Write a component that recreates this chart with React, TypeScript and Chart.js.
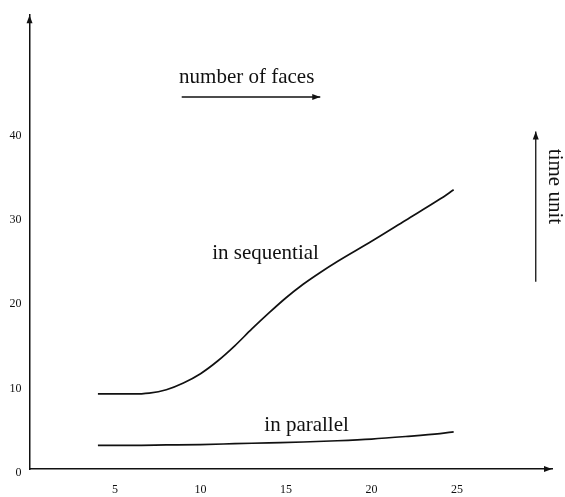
import React, { useEffect, useRef } from "react";
import { Chart, registerables } from "chart.js";

Chart.register(...registerables);

const faces = [4, 6, 7, 8, 9, 10, 11, 12, 13, 14, 15, 16, 17, 18, 20, 22, 24, 24.8];
const sequential = [8.9, 8.9, 9.0, 9.4, 10.2, 11.3, 12.8, 14.6, 16.6, 18.5, 20.3, 21.9, 23.3, 24.6, 27.0, 29.5, 32.0, 33.1];
const parallelX = [4, 6, 8, 10, 12, 14, 16, 18, 20, 22, 24, 24.8];
const parallel = [2.8, 2.8, 2.85, 2.9, 3.0, 3.1, 3.2, 3.35, 3.55, 3.85, 4.2, 4.4];
const xTicks = [5, 10, 15, 20, 25];
const yTicks = [0, 10, 20, 30, 40];

const SERIF = "'Liberation Serif', 'DejaVu Serif', serif";

function arrowHead(ctx: CanvasRenderingContext2D, x: number, y: number, dir: "right" | "up") {
  ctx.beginPath();
  if (dir === "right") {
    ctx.moveTo(x, y);
    ctx.lineTo(x - 8, y - 3);
    ctx.lineTo(x - 8, y + 3);
  } else {
    ctx.moveTo(x, y);
    ctx.lineTo(x - 3, y + 8);
    ctx.lineTo(x + 3, y + 8);
  }
  ctx.closePath();
  ctx.fill();
}

const annotations = {
  id: "annotations",
  afterDraw(chart: any) {
    const { ctx, scales, chartArea } = chart;
    const xs = scales.x;
    const ys = scales.y;
    const px = (v: number) => xs.getPixelForValue(v);
    const py = (v: number) => ys.getPixelForValue(v);
    ctx.save();
    ctx.fillStyle = "#111";
    ctx.strokeStyle = "#111";
    ctx.lineWidth = 1.3;
    // axis arrowheads
    arrowHead(ctx, chartArea.right, chartArea.bottom, "right");
    arrowHead(ctx, chartArea.left, chartArea.top, "up");

    ctx.font = `21px ${SERIF}`;
    ctx.textAlign = "center";
    ctx.textBaseline = "alphabetic";
    // number of faces
    ctx.fillText("number of faces", px(12.7), py(45.8));
    ctx.beginPath();
    ctx.moveTo(px(8.9), py(44.1));
    ctx.lineTo(px(17.0), py(44.1));
    ctx.stroke();
    arrowHead(ctx, px(17.0), py(44.1), "right");

    // time unit
    ctx.save();
    ctx.translate(px(30.72), py(33.5));
    ctx.rotate(Math.PI / 2);
    ctx.textBaseline = "middle";
    ctx.fillText("time unit", 0, 0);
    ctx.restore();
    ctx.beginPath();
    ctx.moveTo(px(29.6), py(22.2));
    ctx.lineTo(px(29.6), py(40.0));
    ctx.stroke();
    arrowHead(ctx, px(29.6), py(40.0), "up");

    // series labels
    ctx.fillText("in sequential", px(13.8), py(24.9));
    ctx.fillText("in parallel", px(16.2), py(4.5));
    ctx.restore();
  },
};

export default function App() {
  const ref = useRef<HTMLCanvasElement | null>(null);
  useEffect(() => {
    document.body.style.margin = "0";
    const canvas = ref.current;
    if (!canvas) return;
    const chart = new Chart(canvas, {
      type: "line",
      data: {
        datasets: [
          {
            label: "in sequential",
            data: faces.map((f, i) => ({ x: f, y: sequential[i] })),
            borderColor: "#111",
            borderWidth: 1.7,
            pointRadius: 0,
            cubicInterpolationMode: "monotone",
            fill: false,
          },
          {
            label: "in parallel",
            data: parallelX.map((f, i) => ({ x: f, y: parallel[i] })),
            borderColor: "#111",
            borderWidth: 1.7,
            pointRadius: 0,
            cubicInterpolationMode: "monotone",
            fill: false,
          },
        ],
      },
      options: {
        responsive: false,
        animation: false,
        layout: { padding: { top: 10, right: 13, left: 0, bottom: 0 } },
        plugins: { legend: { display: false }, tooltip: { enabled: false }, title: { display: false } },
        scales: {
          x: {
            type: "linear",
            min: 0,
            max: 30.55,
            afterFit: (s: any) => {
              s.height = 28;
            },
            afterBuildTicks: (s: any) => {
              s.ticks = xTicks.map((v) => ({ value: v }));
            },
            grid: { display: false, drawTicks: false },
            border: { display: true, color: "#111", width: 1.5 },
            ticks: {
              color: "#111",
              padding: 14,
              maxRotation: 0,
              autoSkip: false,
              font: { family: SERIF, size: 12 },
            },
          },
          y: {
            type: "linear",
            min: 0,
            max: 53.8,
            afterFit: (s: any) => {
              s.width = 29.5;
            },
            afterBuildTicks: (s: any) => {
              s.ticks = yTicks.map((v) => ({ value: v }));
            },
            grid: { display: false, drawTicks: false },
            border: { display: true, color: "#111", width: 1.5 },
            ticks: {
              color: "#111",
              padding: 8,
              labelOffset: 4,
              autoSkip: false,
              font: { family: SERIF, size: 12 },
            },
          },
        },
      },
      plugins: [annotations],
    } as any);
    return () => chart.destroy();
  }, []);
  return (
    <div style={{ position: "fixed", left: 0, top: 0, width: 565, height: 497, background: "#fff" }}>
      <canvas ref={ref} width={565} height={497} />
    </div>
  );
}
